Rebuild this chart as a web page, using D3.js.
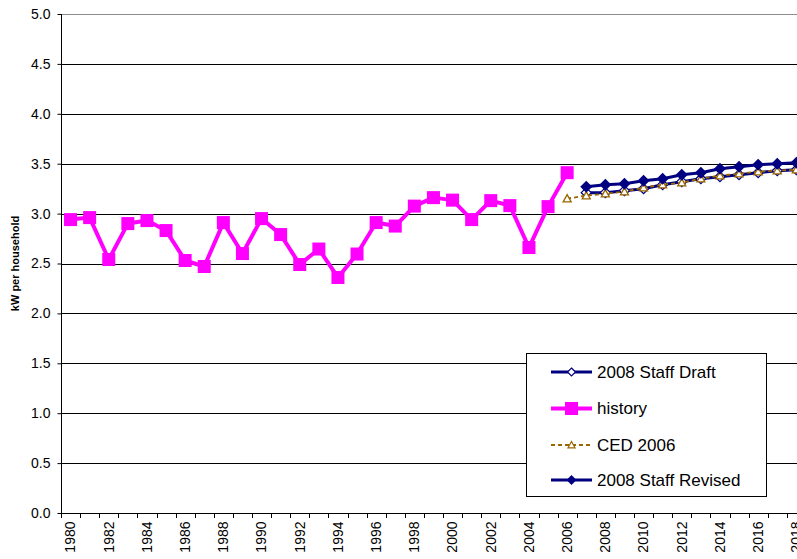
<!DOCTYPE html>
<html><head><meta charset="utf-8">
<script src="https://cdn.jsdelivr.net/npm/d3@7"></script>
<style>
html,body{margin:0;padding:0;background:#fff;overflow:hidden;}
svg{display:block;font-family:"Liberation Sans",Arial,sans-serif;}
</style></head>
<body><svg id="c" width="797" height="559"></svg>
<script>
const years = d3.range(1980, 2019).map(String);
const historyYears = d3.range(1980, 2007).map(String);
const historyVals = [2.94,2.96,2.54,2.90,2.93,2.83,2.53,2.47,2.91,2.60,2.95,2.79,2.49,2.645,2.36,2.595,2.91,2.875,3.075,3.16,3.135,2.94,3.13,3.08,2.66,3.07,3.41];
const cedYears = d3.range(2006, 2019).map(String);
const cedVals = [3.15,3.18,3.20,3.22,3.26,3.29,3.31,3.35,3.38,3.40,3.42,3.43,3.44];
const draftYears = d3.range(2007, 2019).map(String);
const draftVals = [3.21,3.21,3.23,3.25,3.29,3.32,3.35,3.37,3.39,3.41,3.43,3.44];
const revisedYears = d3.range(2007, 2019).map(String);
const revisedVals = [3.27,3.29,3.30,3.33,3.35,3.39,3.41,3.45,3.47,3.49,3.50,3.51];
const yTicks = [0,0.5,1,1.5,2,2.5,3,3.5,4,4.5,5];
const legendNames = ["2008 Staff Draft","history","CED 2006","2008 Staff Revised"];

const svg = d3.select("#c");
const L = 61, T = 14, B = 513, step = 19.1;
const x = d3.scaleBand().domain(years).range([L, L + step*years.length]).paddingInner(0).paddingOuter(0);
const y = d3.scaleLinear().domain([0,5]).range([B, T]);
const cx = d => x(d) + x.bandwidth()/2;

// gridlines
svg.append("g").selectAll("line").data(yTicks.filter(v=>v>0)).join("line")
  .attr("x1", L).attr("x2", 797).attr("y1", d=>Math.round(y(d))+0.5).attr("y2", d=>Math.round(y(d))+0.5)
  .attr("stroke", d=> d===5 ? "#8c8c8c" : "#000").attr("stroke-width",1);

// y axis
const ya = svg.append("g").attr("transform", `translate(${L+0.5},0)`)
  .call(d3.axisLeft(y).tickValues(yTicks).tickFormat(d3.format(".1f")).tickSize(4).tickPadding(7));
ya.select(".domain").attr("stroke","#000").attr("d", `M0,${T}V${B}`);
ya.selectAll("text").attr("font-size",14).attr("fill","#000").attr("font-family","Liberation Sans, Arial, sans-serif");
ya.selectAll(".tick line").attr("stroke","#000");

// x axis
const xa = svg.append("g").attr("transform", `translate(0,${Math.round(B)+0.5})`)
  .call(d3.axisBottom(x).tickSize(0).tickFormat(d => (+d % 2 === 0) ? d : ""));
xa.select(".domain").attr("stroke","#000").attr("d", `M${L},0H${L+step*years.length}`);
xa.selectAll("text").attr("font-size",14).attr("fill","#000").attr("font-family","Liberation Sans, Arial, sans-serif")
  .attr("text-anchor","end").attr("transform","translate(0,8) rotate(-90)").attr("x",0).attr("y",0).attr("dy","0.35em");
svg.append("g").selectAll("line").data(d3.range(0, years.length+1)).join("line")
  .attr("x1", i=>Math.round(L+i*step)+0.5).attr("x2", i=>Math.round(L+i*step)+0.5)
  .attr("y1", B).attr("y2", B+5).attr("stroke","#000");

// y title
svg.append("text").attr("transform", `translate(19,${(T+B)/2}) rotate(-90)`)
  .attr("text-anchor","middle").attr("font-size",11).attr("font-weight","bold").text("kW per household");

const navy = "#000080", mag = "#ff00ff", brown = "#996600";
const line = d3.line().x(d=>cx(d[0])).y(d=>y(d[1]));
const zip = (a,b) => a.map((v,i)=>[v,b[i]]);
const diamond = s => `M0,${-s}L${s},0L0,${s}L${-s},0Z`;
const tri = s => `M0,${-s}L${s},${s*0.8}L${-s},${s*0.8}Z`;

// Draft
const dD = zip(draftYears, draftVals);
svg.append("path").attr("d", line(dD)).attr("fill","none").attr("stroke",navy).attr("stroke-width",3);
svg.append("g").selectAll("path").data(dD).join("path")
  .attr("transform", d=>`translate(${cx(d[0])},${y(d[1])})`).attr("d", diamond(5))
  .attr("fill","#fff").attr("stroke",navy).attr("stroke-width",1.3);

// History
const hD = zip(historyYears, historyVals);
svg.append("path").attr("d", line(hD)).attr("fill","none").attr("stroke",mag).attr("stroke-width",4).attr("stroke-linejoin","round");
svg.append("g").selectAll("rect").data(hD).join("rect")
  .attr("x", d=>cx(d[0])-6.5).attr("y", d=>y(d[1])-6.5).attr("width",13).attr("height",13).attr("fill",mag);

// CED
const cD = zip(cedYears, cedVals);
svg.append("path").attr("d", line(cD)).attr("fill","none").attr("stroke",brown).attr("stroke-width",1.8).attr("stroke-dasharray","4,3");
svg.append("g").selectAll("path").data(cD).join("path")
  .attr("transform", d=>`translate(${cx(d[0])},${y(d[1])})`).attr("d", tri(4))
  .attr("fill","#fff").attr("stroke",brown).attr("stroke-width",1.3);

// Revised
const rD = zip(revisedYears, revisedVals);
svg.append("path").attr("d", line(rD)).attr("fill","none").attr("stroke",navy).attr("stroke-width",3);
svg.append("g").selectAll("path").data(rD).join("path")
  .attr("transform", d=>`translate(${cx(d[0])},${y(d[1])})`).attr("d", diamond(6))
  .attr("fill",navy);

// Legend
const lg = svg.append("g");
lg.append("rect").attr("x",526.5).attr("y",353.5).attr("width",240).attr("height",143)
  .attr("fill","#fff").attr("stroke","#000").attr("stroke-width",1);
const rows = [372, 408.5, 445, 480];
legendNames.forEach((name,i)=>{
  const g = lg.append("g").attr("transform",`translate(0,${rows[i]})`);
  const x1=551, x2=592, mx=571.5;
  if(i===0){
    g.append("line").attr("x1",x1).attr("x2",x2).attr("stroke",navy).attr("stroke-width",3);
    g.append("path").attr("transform",`translate(${mx},0)`).attr("d",diamond(4)).attr("fill","#fff").attr("stroke",navy).attr("stroke-width",1.2);
  } else if(i===1){
    g.append("line").attr("x1",x1).attr("x2",x2).attr("stroke",mag).attr("stroke-width",4);
    g.append("rect").attr("x",mx-6.5).attr("y",-6.5).attr("width",13).attr("height",13).attr("fill",mag);
  } else if(i===2){
    g.append("line").attr("x1",x1).attr("x2",x2).attr("stroke",brown).attr("stroke-width",1.8).attr("stroke-dasharray","4,3");
    g.append("path").attr("transform",`translate(${mx},0)`).attr("d",tri(3.5)).attr("fill","#fff").attr("stroke",brown).attr("stroke-width",1.2);
  } else {
    g.append("line").attr("x1",x1).attr("x2",x2).attr("stroke",navy).attr("stroke-width",3);
    g.append("path").attr("transform",`translate(${mx},0)`).attr("d",diamond(5)).attr("fill",navy);
  }
  g.append("text").attr("x",597).attr("y",0).attr("dy","0.35em").attr("font-size",17).attr("fill","#000").text(name);
});
</script></body></html>
